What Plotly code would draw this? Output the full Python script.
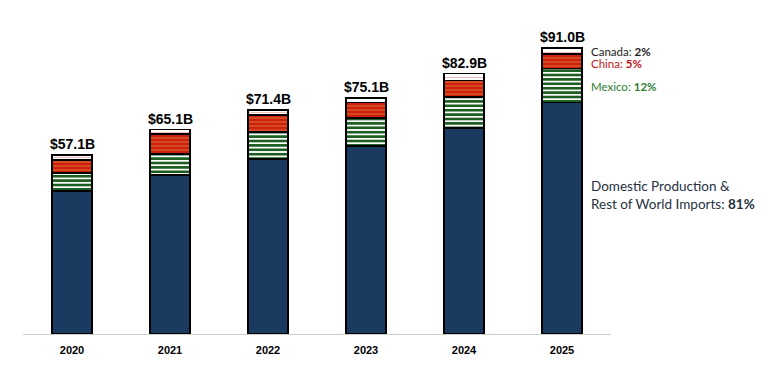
import plotly.graph_objects as go

years = ["2020", "2021", "2022", "2023", "2024", "2025"]
domestic = [45.5, 50.6, 55.7, 59.9, 65.6, 73.7]
mexico = [5.8, 6.7, 8.6, 8.8, 9.9, 10.9]
china = [4.2, 6.4, 5.5, 5.0, 5.2, 4.6]
canada = [1.6, 1.4, 1.6, 1.4, 2.2, 1.8]
share_labels = {"Canada": "2%", "China": "5%", "Mexico": "12%", "Domestic": "81%"}

totals = [round(a + b + c + d, 1) for a, b, c, d in zip(domestic, mexico, china, canada)]

NAVY = "#1b3a5f"
RED = "#cc1f0f"
YEL = "#f9cc45"
GREEN = "#1c5e20"
LINE = dict(color="black", width=1.6)
BW = 0.41

fig = go.Figure()
fig.add_trace(go.Bar(x=years, y=domestic, name="Domestic", width=BW,
                     marker=dict(color=NAVY, line=LINE)))
fig.add_trace(go.Bar(x=years, y=mexico, name="Mexico", width=BW,
                     marker=dict(color="white", line=LINE,
                                 pattern=dict(shape="-", fgcolor=GREEN, bgcolor="white",
                                              fillmode="replace", size=4.4, solidity=0.6))))
fig.add_trace(go.Bar(x=years, y=china, name="China", width=BW,
                     marker=dict(color=RED, line=LINE,
                                 pattern=dict(shape="-", fgcolor=YEL, bgcolor=RED,
                                              fillmode="replace", size=4, solidity=0.12))))
fig.add_trace(go.Bar(x=years, y=canada, name="Canada", width=BW,
                     marker=dict(color="white", line=LINE,
                                 pattern=dict(shape="-", fgcolor=RED, bgcolor="white",
                                              fillmode="replace", size=5, solidity=0.06))))

for i, t in enumerate(totals):
    fig.add_annotation(x=i, y=t, text=f"<b>${t:.1f}B</b>", showarrow=False,
                       yanchor="bottom", yshift=1,
                       font=dict(family="Liberation Sans", size=14, color="black"))

li = len(years) - 1
d, m, c, k = domestic[-1], mexico[-1], china[-1], canada[-1]
side = [
    (d + m + c + k / 2 - 0.2, f"Canada: <b>{share_labels['Canada']}</b>", "#222222", 11.5),
    (d + m + c / 2 - 0.9, f"China: <b>{share_labels['China']}</b>", "#c0141c", 11.5),
    (d + m / 2 - 0.2, f"Mexico: <b>{share_labels['Mexico']}</b>", "#2e7d32", 11.5),
]
for yv, txt, col, sz in side:
    fig.add_annotation(x=li, y=yv, text=txt, showarrow=False, xanchor="left",
                       xshift=27, align="left",
                       font=dict(family="Lato", size=sz, color=col))
fig.add_annotation(x=li, y=d * 0.6, text=f"Domestic Production &amp;<br>Rest of World Imports: <b>{share_labels['Domestic']}</b>",
                   showarrow=False, xanchor="left", xshift=27, align="left",
                   font=dict(family="Lato", size=13.5, color="#26323f"))

fig.update_layout(
    barmode="stack",
    width=767, height=377,
    margin=dict(l=15, r=164, t=12, b=51),
    paper_bgcolor="white", plot_bgcolor="white",
    showlegend=False,
    xaxis=dict(type="category", range=[-0.5, 5.5], autorange=False,
               showline=True, linecolor="#d0d0d0", linewidth=1.2, ticks="",
               ticklabelstandoff=6,
               tickfont=dict(family="Liberation Sans", size=11, color="black"),
               tickvals=years, ticktext=[f"<b>{y}</b>" for y in years]),
    yaxis=dict(range=[0, 100], visible=False, showgrid=False),
)

fig.write_html("out.html")
